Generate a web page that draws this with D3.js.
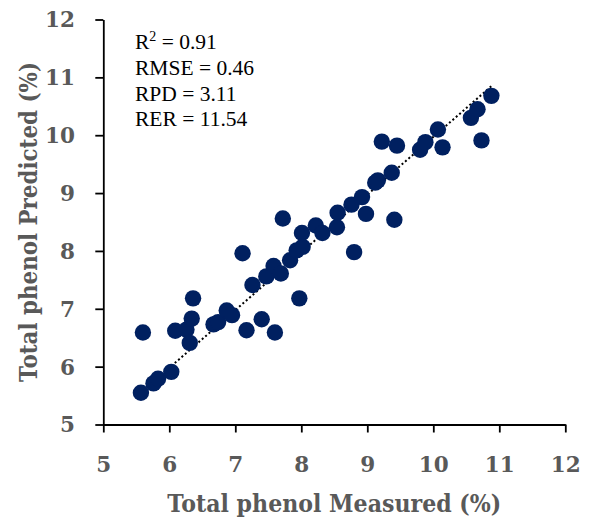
<!DOCTYPE html>
<html>
<head>
  <meta charset="utf-8" />
  <title>Total phenol</title>
  <style type="text/css">
    html, body { margin: 0; background: #fff; }
  </style>
</head>
<body>

<div id="container"></div>

<script src="https://d3js.org/d3.v7.min.js"></script>
<script>
// measured vs predicted total phenol (%)
var measured = [5.57, 5.60, 5.76, 5.83, 6.03, 6.09, 6.26, 6.31, 6.34, 6.36,
                6.67, 6.74, 6.87, 6.95, 7.11, 7.17, 7.26, 7.40, 7.47, 7.58,
                7.60, 7.69, 7.72, 7.83, 7.93, 7.97, 8.02, 8.01, 8.22, 8.32,
                8.54, 8.55, 8.76, 8.80, 8.92, 8.98, 9.12, 9.16, 9.37, 9.41,
                9.22, 9.45, 9.80, 9.88, 10.07, 10.14, 10.57, 10.67, 10.88, 10.73];
var predicted = [5.55, 6.59, 5.71, 5.79, 5.91, 6.62, 6.64, 6.41, 6.83, 7.18,
                 6.73, 6.77, 6.97, 6.89, 7.96, 6.63, 7.41, 6.82, 7.56, 7.74,
                 6.59, 7.61, 8.56, 7.84, 8.01, 7.18, 8.07, 8.31, 8.44, 8.31,
                 8.41, 8.66, 8.80, 7.98, 8.93, 8.64, 9.18, 9.22, 9.35, 8.54,
                 9.89, 9.82, 9.75, 9.88, 10.10, 9.79, 10.30, 10.45, 10.68, 9.91];

var ticks = [5, 6, 7, 8, 9, 10, 11, 12];
var stats = ["RMSE = 0.46", "RPD = 3.11", "RER = 11.54"];
var r2Text = "0.91";
var trendSlope = 0.998;
var trendIntercept = -0.01;

var xTitle = "Total phenol Measured (%)";
var yTitle = "Total phenol Predicted (%)";

var width = 592, height = 520;
// note: "top" is a reserved window property, so plot edges get a prefix
var plotLeft = 103.3, plotRight = 565.3, plotTop = 19.5, plotBottom = 424.5;

var svg = d3.select("#container").append("svg")
    .attr("width", width)
    .attr("height", height);

var x = d3.scaleLinear().domain([5, 12]).range([plotLeft, plotRight]);
var y = d3.scaleLinear().domain([5, 12]).range([plotBottom, plotTop]);

var labelFont = "'DejaVu Serif', serif";
var grey = "#595959";

// axes
var xAxis = svg.append("g")
    .attr("transform", "translate(0," + plotBottom + ")")
    .call(d3.axisBottom(x).tickValues(ticks).tickFormat(d3.format("d"))
      .tickSizeInner(8).tickSizeOuter(0));
var yAxis = svg.append("g")
    .attr("transform", "translate(" + plotLeft + ",0)")
    .call(d3.axisLeft(y).tickValues(ticks).tickFormat(d3.format("d"))
      .tickSizeInner(8).tickSizeOuter(0));

svg.selectAll(".domain, .tick line")
    .attr("stroke", "#000")
    .attr("stroke-width", 1.8);

xAxis.selectAll("text")
    .attr("y", 47.5).attr("dy", null);
yAxis.selectAll("text")
    .attr("x", -28.3).attr("y", 7.4).attr("dy", null);

svg.selectAll(".tick text")
    .attr("fill", grey)
    .attr("font-family", labelFont)
    .attr("font-weight", "bold")
    .attr("font-size", 21.5);

// titles
svg.append("text")
    .attr("x", (plotLeft + plotRight) / 2)
    .attr("y", 511.5)
    .attr("text-anchor", "middle")
    .attr("textLength", 334)
    .attr("lengthAdjust", "spacingAndGlyphs")
    .attr("fill", grey)
    .attr("font-family", labelFont)
    .attr("font-weight", "bold")
    .attr("font-size", 23.5)
    .text(xTitle);

svg.append("text")
    .attr("transform", "translate(37," + (plotTop + plotBottom) / 2 + ") rotate(-90)")
    .attr("text-anchor", "middle")
    .attr("textLength", 320)
    .attr("lengthAdjust", "spacingAndGlyphs")
    .attr("fill", grey)
    .attr("font-family", labelFont)
    .attr("font-weight", "bold")
    .attr("font-size", 23.5)
    .text(yTitle);

// trendline
var xMin = d3.min(measured), xMax = d3.max(measured);
svg.append("line")
    .attr("x1", x(xMin)).attr("y1", y(trendSlope * xMin + trendIntercept))
    .attr("x2", x(xMax)).attr("y2", y(trendSlope * xMax + trendIntercept))
    .attr("stroke", "#000")
    .attr("stroke-width", 2)
    .attr("stroke-dasharray", "2,2.5");

// points
svg.append("g").selectAll("circle")
    .data(measured)
  .enter().append("circle")
    .attr("cx", function(d) { return x(d); })
    .attr("cy", function(d, i) { return y(predicted[i]); })
    .attr("r", 8.2)
    .attr("fill", "#002060");

// stats box
var statFont = "'Liberation Serif', 'Times New Roman', serif";
var r2 = svg.append("text")
    .attr("x", 135).attr("y", 49)
    .attr("font-family", statFont)
    .attr("font-size", 21.5)
    .attr("fill", "#000");
r2.append("tspan").text("R");
r2.append("tspan").attr("font-size", 14).attr("dy", -8).text("2");
r2.append("tspan").attr("dy", 8).text(" = " + r2Text);

svg.selectAll(".stat")
    .data(stats)
  .enter().append("text")
    .attr("class", "stat")
    .attr("x", 135)
    .attr("y", function(d, i) { return 75 + i * 25.6; })
    .attr("font-family", statFont)
    .attr("font-size", 21.5)
    .attr("fill", "#000")
    .text(function(d) { return d; });
</script>
</body>
</html>
